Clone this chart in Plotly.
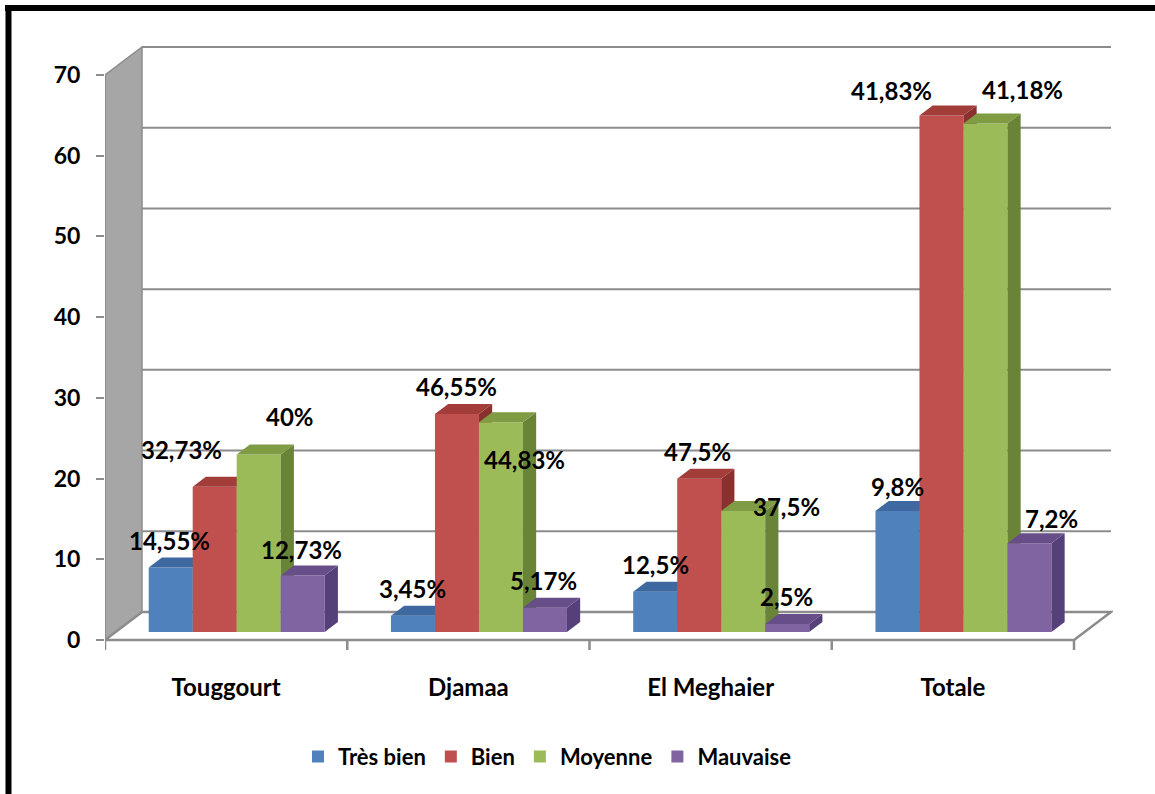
import plotly.graph_objects as go

# ---- data -------------------------------------------------------------
categories = ["Touggourt", "Djamaa", "El Meghaier", "Totale"]
series_names = ["Très bien", "Bien", "Moyenne", "Mauvaise"]

tres_bien = [8, 2, 5, 15]
bien = [18, 27, 19, 64]
moyenne = [22, 26, 15, 63]
mauvaise = [7, 3, 1, 11]

pct_tres_bien = ["14,55%", "3,45%", "12,5%", "9,8%"]
pct_bien = ["32,73%", "46,55%", "47,5%", "41,83%"]
pct_moyenne = ["40%", "44,83%", "37,5%", "41,18%"]
pct_mauvaise = ["12,73%", "5,17%", "2,5%", "7,2%"]

y_ticks = [0, 10, 20, 30, 40, 50, 60, 70]

# ---- styling ----------------------------------------------------------
front_colors = ["#4f81bd", "#c0504d", "#9bbb59", "#8064a2"]
top_colors = ["#3e69a0", "#a23d3a", "#7f9c45", "#674e88"]
side_colors = ["#32568a", "#8a302e", "#6a8437", "#56407a"]

# label offsets (px) from the top-front centre of each bar
label_shift = [
    [(-1, 27), (0, 27), (0, 27), (0, 24)],
    [(-33, 37), (0, 28), (-2, 27), (-50, 25)],
    [(31, 38), (24, -37), (43, 4), (37, 34)],
    [(-1, 26), (-1, 27), (-1, 27), (22, 25)],
]

W, H = 1155, 794
PL, PR, PT, PB = 105, 1113, 40, 652          # plot area in px
X_UNIT = 242.25                               # px per category
Y_UNIT = 565.0 / 70                           # px per value unit
Y0_PX = 640                                   # px of value 0 on the front plane

x_range = [-0.5, -0.5 + (PR - PL) / X_UNIT]
y_range = [-(PB - Y0_PX) / Y_UNIT, (Y0_PX - PT) / Y_UNIT]

# depth of the chart box (projection offset)
DX = 37 / X_UNIT
DY = 28 / Y_UNIT
F_FRONT = 8 / 28      # bars' front plane as a fraction of depth
F_DEPTH = 10 / 28     # bars' thickness as a fraction of depth
BW = 44 / X_UNIT      # bar width
INNER = (X_UNIT - 4 * 44) / 2 / X_UNIT

GRID = "#8c8c8c"

series_values = [tres_bien, bien, moyenne, mauvaise]
series_labels = [pct_tres_bien, pct_bien, pct_moyenne, pct_mauvaise]

fig = go.Figure()
annotations = []

base_y = F_FRONT * DY
ddx, ddy = F_DEPTH * DX, F_DEPTH * DY

for j, (name, vals, labs) in enumerate(zip(series_names, series_values, series_labels)):
    xa = "x" if j == 0 else f"x{j + 1}"
    ya = "y" if j == 0 else f"y{j + 1}"
    lefts = [i - 0.5 + INNER + j * BW + F_FRONT * DX for i in range(len(categories))]
    centers = [l + BW / 2 for l in lefts]

    # front faces
    fig.add_trace(go.Bar(
        x=centers, y=vals, base=[base_y] * len(vals), width=BW, name=name,
        marker=dict(color=front_colors[j], line=dict(width=0)),
        xaxis=xa, yaxis=ya, hoverinfo="skip",
    ))

    # side and top faces
    sx, sy, tx, ty = [], [], [], []
    for l, v in zip(lefts, vals):
        r = l + BW
        top = base_y + v
        sx += [r, r, r + ddx, r + ddx, r, None]
        sy += [base_y, top, top + ddy, base_y + ddy, base_y, None]
        tx += [l, r, r + ddx, l + ddx, l, None]
        ty += [top, top, top + ddy, top + ddy, top, None]
    fig.add_trace(go.Scatter(
        x=sx, y=sy, fill="toself", fillcolor=side_colors[j], mode="lines",
        line=dict(width=0, color=side_colors[j]), showlegend=False,
        hoverinfo="skip", xaxis=xa, yaxis=ya,
    ))
    fig.add_trace(go.Scatter(
        x=tx, y=ty, fill="toself", fillcolor=top_colors[j], mode="lines",
        line=dict(width=0, color=top_colors[j]), showlegend=False,
        hoverinfo="skip", xaxis=xa, yaxis=ya,
    ))

    for i, (c, v, t) in enumerate(zip(centers, vals, labs)):
        dxs, dys = label_shift[j][i]
        annotations.append(dict(
            x=c, y=base_y + v, xref="x", yref="y", text=t, showarrow=False,
            xshift=dxs, yshift=dys, font=dict(size=24, color="black"),
        ))

# ---- chart box: side wall, back-wall grid, floor ----------------------
xl, xr = -0.5, len(categories) - 0.5
ymax = y_ticks[-1]
shapes = []
for t in y_ticks:
    shapes.append(dict(type="line", xref="x", yref="y", layer="below",
                       x0=xl + DX, x1=xr + DX, y0=t + DY, y1=t + DY,
                       line=dict(color=GRID, width=2)))
shapes.append(dict(type="path", xref="x", yref="y", layer="below",
                   path=f"M {xl},{ymax} L {xl + DX},{ymax + DY} L {xl + DX},{DY} L {xl},0 Z",
                   fillcolor="#a6a6a6", line=dict(color=GRID, width=1.5)))
shapes.append(dict(type="path", xref="x", yref="y", layer="below",
                   path=f"M {xl},0 L {xr},0 L {xr + DX},{DY} L {xl + DX},{DY} Z",
                   fillcolor="white", line=dict(color=GRID, width=2.5)))
shapes.append(dict(type="line", xref="x", yref="y", layer="below",
                   x0=xl, x1=xl, y0=0, y1=ymax, line=dict(color=GRID, width=2)))
for k in range(len(categories) + 1):
    shapes.append(dict(type="line", xref="x", yref="y", layer="below",
                       x0=xl + k, x1=xl + k, y0=0, y1=-10 / Y_UNIT,
                       line=dict(color=GRID, width=2.5)))


# outer frame (left and top edges)
def px_to_paper_x(px):
    return (px - PL) / (PR - PL)


def px_to_paper_y(py):
    return (PB - py) / (PB - PT)


shapes.append(dict(type="line", xref="paper", yref="paper",
                   x0=px_to_paper_x(8.5), x1=px_to_paper_x(8.5),
                   y0=px_to_paper_y(5), y1=px_to_paper_y(800),
                   line=dict(color="black", width=6)))
shapes.append(dict(type="line", xref="paper", yref="paper",
                   x0=px_to_paper_x(5), x1=px_to_paper_x(1160),
                   y0=px_to_paper_y(8), y1=px_to_paper_y(8),
                   line=dict(color="black", width=6)))

hidden_axis = dict(visible=False, fixedrange=True)
layout_axes = {}
for j in range(2, 5):
    layout_axes[f"xaxis{j}"] = dict(hidden_axis, range=x_range, overlaying="x")
    layout_axes[f"yaxis{j}"] = dict(hidden_axis, range=y_range, overlaying="y")

fig.update_layout(
    width=W, height=H,
    margin=dict(l=PL, r=W - PR, t=PT, b=H - PB),
    paper_bgcolor="white", plot_bgcolor="white",
    font=dict(family="Lato", size=23, color="black", weight="bold"),
    barmode="overlay",
    xaxis=dict(range=x_range, tickvals=list(range(len(categories))), ticktext=categories,
               ticks="outside", ticklen=14, tickcolor="rgba(0,0,0,0)",
               showgrid=False, zeroline=False, showline=False, fixedrange=True,
               tickfont=dict(size=24)),
    yaxis=dict(range=y_range, tickvals=y_ticks, ticks="outside", ticklen=8,
               tickwidth=2, tickcolor=GRID, showgrid=False, zeroline=False,
               showline=False, fixedrange=True, ticklabelstandoff=11,
               tickfont=dict(size=23)),
    legend=dict(orientation="h", xref="container", yref="container",
                x=0.474, y=0.047, xanchor="center", yanchor="middle",
                font=dict(size=22), itemwidth=30, traceorder="normal"),
    shapes=shapes,
    annotations=annotations,
    **layout_axes,
)

fig.write_html("out.html")
